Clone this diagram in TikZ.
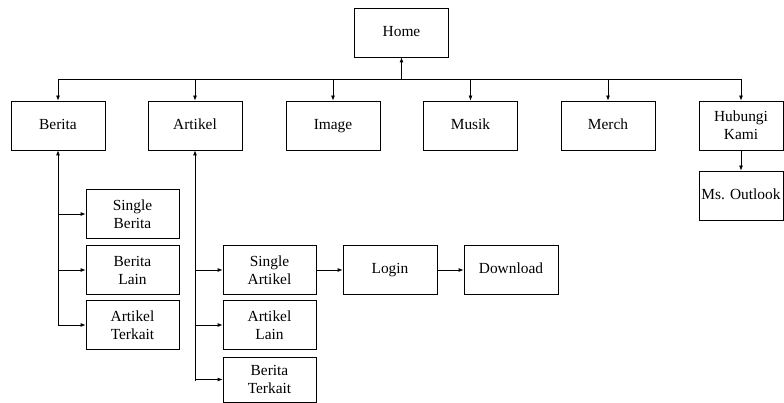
\documentclass[tikz,border=0pt]{standalone}
\usepackage{fontspec}
\setmainfont{Liberation Serif}
\usepackage{tikz}
\usetikzlibrary{calc}
\usetikzlibrary{positioning}
\usetikzlibrary{arrows.meta}

\begin{document}
\begin{tikzpicture}[x=1pt,y=-1pt]
\tikzstyle{box}=[rectangle,align=center,draw,line width=0.8pt,fill=white,minimum width=94pt,minimum height=49pt,inner sep=2pt,font=\fontsize{15.4}{18}\selectfont]
\tikzstyle{oneline}=[text height=2ex,text depth=.4ex]
\tikzstyle{link}=[line width=0.8pt,-{Latex[length=5pt,width=4pt]}]
\useasboundingbox (0,0) rectangle (784,403);
\node[box,oneline] at(401.5, 32.5) (home) {Home};
\node[box,oneline] at(58, 125.5) (berita) {Berita};
\node[box,oneline] at(195, 125.5) (artikel) {Artikel};
\node[box,oneline] at(333, 125.5) (image) {Image};
\node[box,oneline] at(470.5, 125.5) (musik) {Musik};
\node[box,oneline] at(608, 125.5) (merch) {Merch};
\node[box,minimum width=84pt] at(741, 125.5) (hubungi) {Hubungi\\Kami};
\node[box,oneline,minimum width=84pt] at(741, 195.5) (outlook) {Ms. Outlook};
% anak berita
\node[box,minimum width=93pt] at(132.5, 214) (singleberita) {Single\\Berita};
\node[box,minimum width=93pt] at(132.5, 270) (beritalain) {Berita\\Lain};
\node[box,minimum width=93pt] at(132.5, 325) (artikelterkait) {Artikel\\Terkait};
% anak artikel
\node[box,minimum width=93pt] at(269.5, 270) (singleartikel) {Single\\Artikel};
\node[box,minimum width=93pt] at(269.5, 325) (artikellain) {Artikel\\Lain};
\node[box,minimum width=93pt,minimum height=45pt] at(269.5, 379.5) (beritaterkait) {Berita\\Terkait};
\node[box,oneline] at(390, 270) (login) {Login};
\node[box,oneline] at(511, 270) (download) {Download};

\coordinate (bus) at(401.5, 79);
\draw[link] (bus) -- (home.south);
\draw[line width=0.8pt] (berita.north |- bus) -- (hubungi.north |- bus);
\foreach \n in {berita,artikel,image,musik,merch,hubungi}
  \draw[link] (\n.north |- bus) -- (\n.north);
\draw[link] (hubungi) -- (outlook);

\coordinate (bend) at(58, 325);
\draw[link] (bend) -- (berita.south);
\foreach \n in {singleberita,beritalain,artikelterkait}
  \draw[link] (bend |- \n.west) -- (\n.west);

\coordinate (aend) at(195, 381);
\draw[link] (aend) -- (artikel.south);
\foreach \n in {singleartikel,artikellain,beritaterkait}
  \draw[link] (aend |- \n.west) -- (\n.west);

\draw[link] (singleartikel) -- (login);
\draw[link] (login) -- (download);
\end{tikzpicture}
\end{document}
